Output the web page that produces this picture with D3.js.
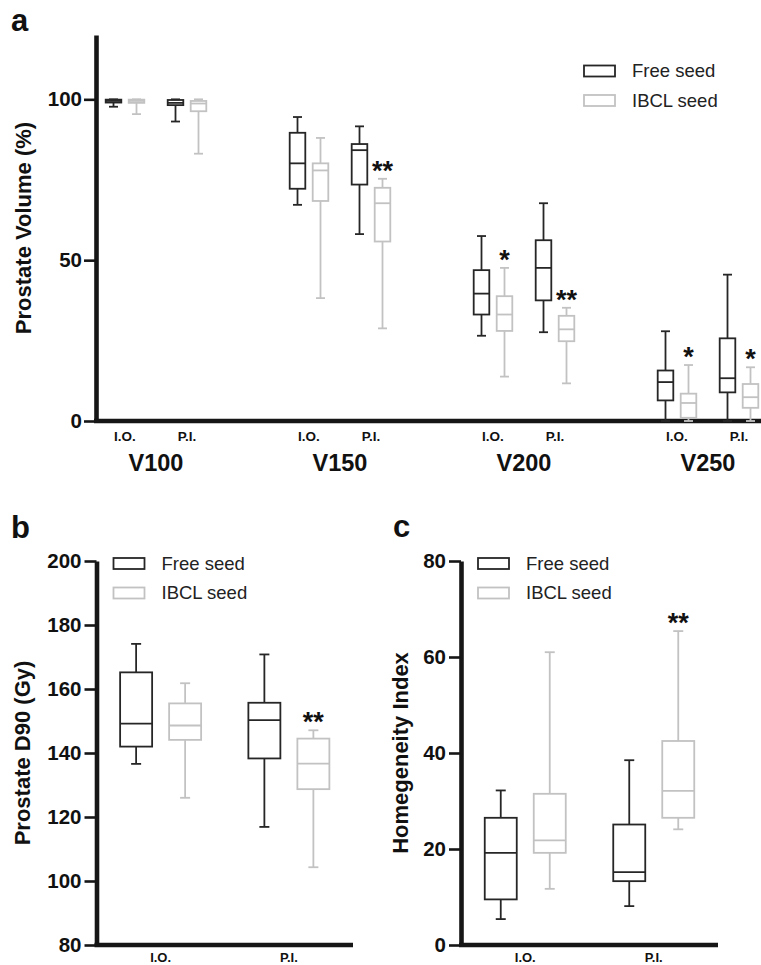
<!DOCTYPE html>
<html lang="en">
<head>
<meta charset="UTF-8">
<title>Free vs IBCL seed box plots</title>
<script src="https://d3js.org/d3.v7.min.js"></script>
<style>
  body { margin: 0; background: #fff; }
  svg { display: block; font-family: "Liberation Sans", Arial, sans-serif; }
</style>
</head>
<body>
<div id="chart"></div>
<script>
// every box is [min, q1, median, q3, max]
const volumeGroups = ["V100", "V150", "V200", "V250"];
const timepoints = ["I.O.", "P.I."];
const seeds = ["Free seed", "IBCL seed"];

// panel a, order: V100 I.O., V100 P.I., V150 I.O., ...
const volumeFree = [
  [97.7, 99.0, 99.5, 99.9, 100],
  [93.1, 98.2, 98.9, 99.8, 100],
  [67.2, 72.2, 80.1, 89.6, 94.5],
  [58.1, 73.5, 84.2, 86.1, 91.6],
  [26.5, 33.1, 39.6, 46.9, 57.5],
  [27.6, 37.5, 47.6, 56.2, 67.7],
  [0, 6.4, 12.1, 15.7, 27.9],
  [0, 8.9, 13.3, 25.7, 45.5]
];
const volumeIbcl = [
  [95.4, 98.9, 99.5, 99.9, 100],
  [83.1, 96.3, 98.7, 99.5, 100],
  [38.2, 68.4, 77.9, 80.1, 88.0],
  [28.8, 55.8, 67.7, 72.5, 75.3],
  [13.8, 28.0, 33.1, 38.8, 47.6],
  [11.7, 24.8, 28.5, 32.7, 35.2],
  [0, 1.0, 5.6, 8.5, 17.4],
  [0, 4.1, 7.4, 11.5, 16.7]
];
const volumeStars = ["", "", "", "**", "*", "**", "*", "*"];
const volumeTicks = [0, 50, 100];

// panel b
const d90Free = [[136.6, 142.0, 149.2, 165.2, 174.1], [116.9, 138.3, 150.3, 155.7, 170.8]];
const d90Ibcl = [[126.0, 144.1, 148.6, 155.5, 161.8], [104.3, 128.7, 136.7, 144.5, 147.1]];
const d90Stars = ["", "**"];
const d90Ticks = [80, 100, 120, 140, 160, 180, 200];

// panel c
const hiFree = [[5.4, 9.5, 19.2, 26.5, 32.2], [8.1, 13.3, 15.2, 25.1, 38.5]];
const hiIbcl = [[11.7, 19.2, 21.8, 31.5, 61.0], [24.1, 26.5, 32.1, 42.5, 65.4]];
const hiStars = ["", "**"];
const hiTicks = [0, 20, 40, 60, 80];

const W = 761, H = 965;
const dark = "#262626", light = "#c2c2c2", axisColor = "#161616";
const colorOf = d3.scaleOrdinal().domain(seeds).range([dark, light]);

const svg = d3.select("#chart").append("svg")
  .attr("width", W)
  .attr("height", H);

function styleAxis(g) {
  g.select(".domain").attr("stroke", axisColor).attr("stroke-width", 4.6);
  g.selectAll(".tick line").attr("stroke", axisColor).attr("stroke-width", 2.6);
  g.selectAll(".tick text")
    .attr("fill", "#111")
    .attr("font-size", 20.5)
    .attr("font-weight", "bold");
}

function drawBox(parent, cx, half, cap, s, y, color) {
  const g = parent.append("g")
    .attr("stroke", color)
    .attr("fill", "none")
    .attr("stroke-width", 1.8);
  g.append("line").attr("x1", cx).attr("x2", cx).attr("y1", y(s[0])).attr("y2", y(s[1]));
  g.append("line").attr("x1", cx).attr("x2", cx).attr("y1", y(s[3])).attr("y2", y(s[4]));
  g.append("line").attr("x1", cx - cap).attr("x2", cx + cap).attr("y1", y(s[0])).attr("y2", y(s[0]));
  g.append("line").attr("x1", cx - cap).attr("x2", cx + cap).attr("y1", y(s[4])).attr("y2", y(s[4]));
  g.append("rect")
    .attr("x", cx - half).attr("y", y(s[3]))
    .attr("width", half * 2).attr("height", y(s[1]) - y(s[3]));
  g.append("line").attr("x1", cx - half).attr("x2", cx + half).attr("y1", y(s[2])).attr("y2", y(s[2]));
}

function drawStars(parent, cx, s, y, label) {
  if (!label) return;
  parent.append("text")
    .attr("x", cx)
    .attr("y", y(s[4]) + 1)
    .attr("text-anchor", "middle")
    .attr("font-size", 27)
    .attr("font-weight", "bold")
    .attr("fill", "#111")
    .text(label);
}

function legend(parent, x, y0) {
  const row = parent.append("g").selectAll("g")
    .data(seeds)
    .join("g")
    .attr("transform", (d, i) => `translate(${x},${y0 + i * 29.5})`);
  row.append("rect")
    .attr("x", 0).attr("y", -5.5)
    .attr("width", 31).attr("height", 11)
    .attr("fill", "none")
    .attr("stroke", d => colorOf(d))
    .attr("stroke-width", 1.8);
  row.append("text")
    .attr("x", 48)
    .attr("dy", "0.35em")
    .attr("font-size", 18.5)
    .attr("fill", "#222")
    .text(d => d);
}

function yTitle(parent, x, y, label) {
  parent.append("text")
    .attr("transform", `translate(${x},${y}) rotate(-90)`)
    .attr("text-anchor", "middle")
    .attr("font-size", 22)
    .attr("font-weight", "bold")
    .attr("fill", "#111")
    .text(label);
}

function panelLetter(x, y, letter) {
  svg.append("text")
    .attr("x", x).attr("y", y)
    .attr("font-size", 31)
    .attr("font-weight", "bold")
    .attr("fill", "#111")
    .text(letter);
}

// ---------- panel a ----------
const ya = d3.scaleLinear().domain([0, 120]).range([421, 35]);
const xGroup = d3.scaleBand().domain(volumeGroups).range([64, 800]);
const xTime = d3.scalePoint().domain(timepoints).range([-31, 31]);
const xSeedA = d3.scalePoint().domain(seeds).range([-11.5, 11.5]);
const catX = i => xGroup(volumeGroups[Math.floor(i / 2)]) + xGroup.bandwidth() / 2 + xTime(timepoints[i % 2]);

const pa = svg.append("g");
pa.append("g")
  .attr("transform", "translate(96,0)")
  .call(d3.axisLeft(ya).tickValues(volumeTicks).tickSize(12).tickPadding(2).tickSizeOuter(0))
  .call(g => styleAxis(g));
pa.append("line")
  .attr("x1", 94).attr("x2", W)
  .attr("y1", ya(0)).attr("y2", ya(0))
  .attr("stroke", axisColor).attr("stroke-width", 4.6);

volumeFree.forEach((s, i) => drawBox(pa, catX(i) + xSeedA(seeds[0]), 7.8, 4.5, s, ya, dark));
volumeIbcl.forEach((s, i) => {
  drawBox(pa, catX(i) + xSeedA(seeds[1]), 7.8, 4.5, s, ya, light);
  drawStars(pa, catX(i) + xSeedA(seeds[1]), s, ya, volumeStars[i]);
});

pa.append("g").selectAll("text")
  .data(d3.range(volumeFree.length))
  .join("text")
  .attr("x", i => catX(i))
  .attr("y", 441)
  .attr("text-anchor", "middle")
  .attr("font-size", 13.5)
  .attr("font-weight", "bold")
  .attr("fill", "#111")
  .text(i => timepoints[i % 2]);

pa.append("g").selectAll("text")
  .data(volumeGroups)
  .join("text")
  .attr("x", d => xGroup(d) + xGroup.bandwidth() / 2)
  .attr("y", 471)
  .attr("text-anchor", "middle")
  .attr("font-size", 23.5)
  .attr("font-weight", "bold")
  .attr("fill", "#111")
  .text(d => d);

yTitle(pa, 31, 228, "Prostate Volume (%)");
legend(pa, 584, 71);
panelLetter(11, 31, "a");

// ---------- panels b and c ----------
function smallPanel(opt) {
  const p = svg.append("g");
  const y = d3.scaleLinear().domain(opt.domain).range([945, 561]);
  const x = d3.scalePoint().domain(timepoints).range([opt.left, opt.right]).padding(0.5);
  const xs = d3.scalePoint().domain(seeds).range([-24.5, 24.5]);

  p.append("g")
    .attr("transform", `translate(${opt.left},0)`)
    .call(d3.axisLeft(y).tickValues(opt.ticks).tickSize(12).tickPadding(3).tickSizeOuter(0))
    .call(g => styleAxis(g));
  p.append("line")
    .attr("x1", opt.left - 2).attr("x2", opt.right)
    .attr("y1", y(opt.domain[0])).attr("y2", y(opt.domain[0]))
    .attr("stroke", axisColor).attr("stroke-width", 4.6);

  opt.free.forEach((s, i) => drawBox(p, x(timepoints[i]) + xs(seeds[0]), 16, 5, s, y, dark));
  opt.ibcl.forEach((s, i) => {
    drawBox(p, x(timepoints[i]) + xs(seeds[1]), 16, 5, s, y, light);
    drawStars(p, x(timepoints[i]) + xs(seeds[1]), s, y, opt.stars[i]);
  });

  p.append("g").selectAll("text")
    .data(timepoints)
    .join("text")
    .attr("x", d => x(d))
    .attr("y", 962)
    .attr("text-anchor", "middle")
    .attr("font-size", 13)
    .attr("font-weight", "bold")
    .attr("fill", "#111")
    .text(d => d);

  yTitle(p, opt.titleX, 753, opt.title);
  legend(p, opt.left + 17, 563.5);
}

smallPanel({
  domain: [80, 200], ticks: d90Ticks, left: 96.5, right: 353,
  free: d90Free, ibcl: d90Ibcl, stars: d90Stars,
  title: "Prostate D90 (Gy)", titleX: 30
});
panelLetter(11, 538, "b");

smallPanel({
  domain: [0, 80], ticks: hiTicks, left: 461, right: 718,
  free: hiFree, ibcl: hiIbcl, stars: hiStars,
  title: "Homegeneity Index", titleX: 408
});
panelLetter(393, 537, "c");
</script>
</body>
</html>
